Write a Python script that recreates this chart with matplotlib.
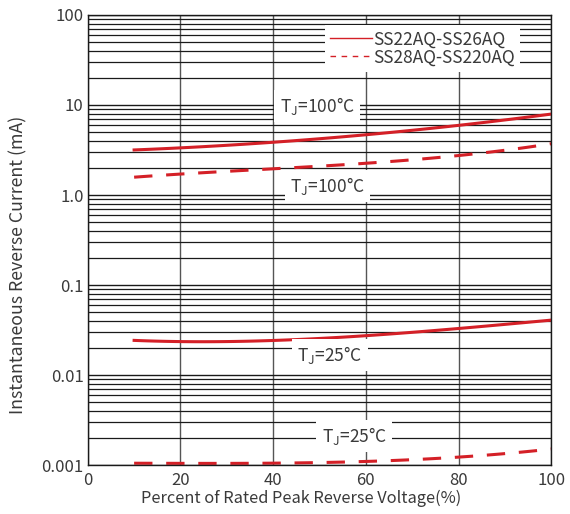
import numpy as np
import matplotlib
matplotlib.use("Agg")
import matplotlib.pyplot as plt
from matplotlib.ticker import LogLocator, FixedLocator, NullFormatter

plt.rcParams['font.family'] = ['Noto Sans CJK SC', 'DejaVu Sans']
plt.rcParams['mathtext.fontset'] = 'custom'
plt.rcParams['mathtext.rm'] = 'Noto Sans CJK SC'

# Data
x_pct = [10, 25, 40, 60, 80, 100]
ir_100_a = [3.16, 3.45, 3.88, 4.6, 6.0, 7.9]       # SS22AQ-SS26AQ, Tj=100C
ir_100_b = [1.58, 1.75, 2.0, 2.2, 2.78, 3.7]       # SS28AQ-SS220AQ, Tj=100C
ir_25_a = [0.0245, 0.023, 0.0245, 0.0278, 0.0324, 0.041]
ir_25_b = [0.00105, 0.00105, 0.00105, 0.0011, 0.00123, 0.00151]

series_names = ["SS22AQ-SS26AQ", "SS28AQ-SS220AQ"]
y_ticks = [0.001, 0.01, 0.1, 1, 10, 100]
y_ticklabels = ["0.001", "0.01", "0.1", "1.0", "10", "100"]
x_ticks = [0, 20, 40, 60, 80, 100]

red = "#d42027"
txt = "#3a3a3a"
dash = (0, (6, 4.5))

fig = plt.figure(figsize=(5.7, 5.14), dpi=100)
ax = fig.add_axes([0.154, 0.095, 0.813, 0.876])

ax.set_yscale("log")
ax.set_xlim(0, 100)
ax.set_ylim(0.001, 100)

# grid
ax.yaxis.set_major_locator(FixedLocator(y_ticks))
ax.set_yticklabels(y_ticklabels)
ax.yaxis.set_minor_locator(LogLocator(base=10, subs=np.arange(2, 10)))
ax.yaxis.set_minor_formatter(NullFormatter())
ax.set_xticks(x_ticks)
ax.grid(True, which="major", axis="y", color="#1a1a1a", linewidth=1.0)
ax.grid(True, which="minor", axis="y", color="#1a1a1a", linewidth=0.9)
ax.grid(True, which="major", axis="x", color="#555555", linewidth=1.0)
ax.tick_params(which="both", length=0, labelsize=12, labelcolor=txt, pad=3)
ax.tick_params(axis="x", pad=5)
for s in ax.spines.values():
    s.set_color("#1a1a1a")
    s.set_linewidth(1.0)

# curves
xs = np.linspace(10, 100, 100)
def smooth(x, y):
    c = np.polyfit(x, np.log10(y), 3)
    return 10 ** np.polyval(c, xs)

l1, = ax.plot(xs, smooth(x_pct, ir_100_a), color=red, lw=2.2, label=series_names[0])
l2, = ax.plot(xs, smooth(x_pct, ir_100_b), color=red, lw=2.2, ls=dash, label=series_names[1])
ax.plot(xs, smooth(x_pct, ir_25_a), color=red, lw=2.2)
ax.plot(xs, smooth(x_pct, ir_25_b), color=red, lw=2.2, ls=dash)

bb = dict(boxstyle="square,pad=0.3", fc="white", ec="none")
lab100 = r"T$_\mathrm{J}$=100°C"
lab25 = r"T$_\mathrm{J}$=25°C"
ax.text(49.5, 9.7, lab100, fontsize=12.5, color=txt, ha="center", va="center", bbox=bb)
ax.text(51.7, 1.26, lab100, fontsize=12.5, color=txt, ha="center", va="center", bbox=bb)
ax.text(52.3, 0.0167, lab25, fontsize=12.5, color=txt, ha="center", va="center", bbox=bb)
ax.text(57.5, 0.0021, lab25, fontsize=12.5, color=txt, ha="center", va="center", bbox=bb)

leg = ax.legend(handles=[l1, l2], loc="upper right", bbox_to_anchor=(0.94, 0.985),
                frameon=True, fancybox=False, edgecolor="none", framealpha=1,
                fontsize=12.5, handlelength=2.4, handletextpad=0.05, borderaxespad=0.2,
                labelspacing=0.0, borderpad=0.3)
for t in leg.get_texts():
    t.set_color(txt)
for h in leg.legend_handles:
    h.set_linewidth(1.0)
leg.legend_handles[1].set_linestyle((0, (4, 4)))

ax.set_xlabel("Percent of Rated Peak Reverse Voltage(%)", fontsize=11.8, color=txt)
ax.xaxis.set_label_coords(0.46, -0.055)
ax.set_ylabel("Instantaneous Reverse Current (mA)", fontsize=12.8, color=txt)
ax.yaxis.set_label_coords(-0.13, 0.445)

fig.savefig("out.png", dpi=100)
